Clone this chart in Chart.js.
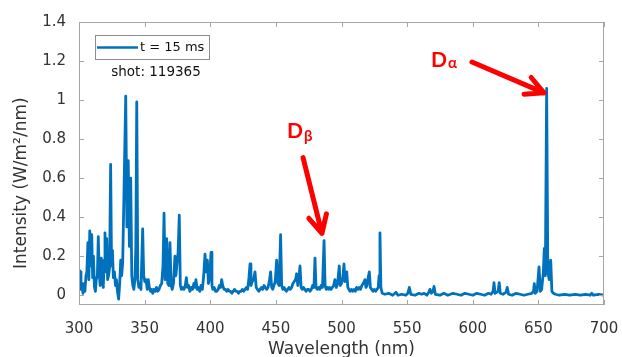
<!DOCTYPE html>
<html>
<head>
<meta charset="utf-8">
<script src="https://cdn.jsdelivr.net/npm/chart.js@4.4.0/dist/chart.umd.min.js"></script>
<style>
    html, body { margin: 0; padding: 0; background: #fff; overflow: hidden; }
    canvas { display: block; }
</style>
</head>
<body>
<canvas id="spectrumChart" width="622" height="357"></canvas>
<script>
// Spectrum (nm, W/m^2/nm)
const wavelength = [
    300, 300.8, 301.5, 302.3, 303, 303.8, 304.5, 305.3, 306, 306.8,
    307.5, 308.2, 309, 309.7, 310.4, 311, 311.8, 312.5, 313.2, 314,
    314.7, 315.4, 316.1, 317, 317.8, 318.5, 319.2, 319.8, 320.5, 321.1,
    321.8, 322.5, 323.3, 324.1, 324.8, 325.5, 326.2, 327, 327.8, 328.5,
    329.3, 330.2, 331, 331.8, 332.5, 333.3, 334.2, 335.6, 336.5, 337.5,
    338.4, 339.4, 340.2, 341, 341.8, 342.6, 343.3, 344, 344.8, 345.6,
    346.4, 347.2, 348.5, 349.3, 350.1, 351, 352, 352.8, 353.6, 354.5,
    355.3, 356.2, 357, 358, 359, 360, 361, 362, 363, 364,
    364.8, 365.6, 366.8, 367.6, 368.5, 369.3, 370.2, 371, 372, 373.1,
    373.8, 374.5, 375.5, 376.4, 377.2, 378, 379, 380, 381, 381.8,
    382.6, 383.5, 384.5, 385.5, 386.5, 387.5, 388.3, 389.1, 390, 391,
    392, 393, 394, 395, 396, 396.8, 397.8, 398.6, 399.5, 400.6,
    401.3, 402, 403, 404, 405, 406, 407, 408, 408.7, 409.5,
    410.5, 411.5, 412.5, 413.5, 414.5, 415.5, 416.5, 417.5, 418.5, 419.5,
    420.5, 421.5, 422.5, 423.5, 424.5, 425.5, 426.5, 427.5, 428.5, 429.5,
    430.3, 431, 432, 433, 434.1, 435, 436, 437, 438, 439,
    440, 441, 442, 443, 444, 445, 446, 446.8, 447.6, 448.5,
    449.5, 450.6, 451.5, 452.5, 453.6, 454.4, 455.3, 456.2, 457, 458,
    459, 460, 461, 462, 463, 464, 465, 465.8, 466.7, 467.5,
    468.4, 469.2, 470, 471, 472, 473, 474, 475, 476, 477,
    478, 479, 479.8, 480.6, 481.5, 482.5, 483.5, 484.5, 485.5, 486.7,
    487.5, 488.4, 489.3, 490.2, 491, 492, 493, 494, 495, 496,
    497, 498.3, 499, 500, 501, 501.9, 502.6, 503.3, 504, 504.8,
    505.6, 506.5, 507.5, 508.5, 509.5, 510.5, 511.5, 512.5, 513.5, 514.5,
    515.5, 516.5, 517.9, 518.6, 519.5, 520.3, 521.2, 522, 523, 524,
    525, 526, 527, 528, 528.6, 529.3, 530, 531, 533, 536,
    539, 541.5, 543, 546, 549, 550.5, 551.7, 552.8, 556, 559,
    561, 563, 565, 566.5, 567.4, 568.5, 569.6, 570.5, 571.5, 575,
    578, 581, 585, 588, 591, 594, 597, 600, 603, 606,
    609, 612, 614, 615.5, 616.2, 617, 619.3, 620.2, 621, 623,
    625.3, 626.3, 627.3, 630, 633, 636, 639, 642, 645, 646.3,
    646.9, 647.6, 649, 650.5, 651.5, 652.5, 653.8, 654.5, 655.3, 656.3,
    657.2, 658.2, 659.4, 660.3, 661.5, 663, 666, 670, 674, 678,
    682, 686, 689.5, 690.6, 692, 696, 700
];
const intensity = [
    0.13, 0.12, 0.03, 0.06, 0.01, 0.05, 0.02, 0.10, 0.12, 0.27,
    0.08, 0.33, 0.15, 0.31, 0.09, 0.20, 0.04, 0.02, 0.08, 0.10,
    0.30, 0.12, 0.05, 0.19, 0.07, 0.04, 0.18, 0.32, 0.12, 0.29,
    0.08, 0.10, 0.14, 0.67, 0.15, 0.23, 0.09, 0.12, 0.05, 0.08,
    0.02, -0.02, 0.06, 0.18, 0.10, 0.17, 0.50, 1.02, 0.35, 0.69,
    0.25, 0.60, 0.10, 0.05, 0.03, 0.08, 0.25, 0.99, 0.08, 0.04,
    0.06, 0.03, 0.34, 0.10, 0.07, 0.08, 0.03, 0.08, 0.04, 0.02,
    0.03, 0.01, 0.03, 0.02, 0.04, 0.02, 0.03, 0.05, 0.06, 0.15,
    0.42, 0.08, 0.29, 0.06, 0.05, 0.27, 0.05, 0.03, 0.06, 0.20,
    0.10, 0.15, 0.22, 0.41, 0.05, 0.03, 0.04, 0.03, 0.05, 0.09,
    0.04, 0.05, 0.02, 0.04, 0.03, 0.06, 0.04, 0.08, 0.03, 0.04,
    0.02, 0.05, 0.03, 0.10, 0.21, 0.12, 0.18, 0.06, 0.09, 0.22,
    0.05, 0.03, 0.04, 0.02, 0.02, 0.03, 0.05, 0.04, 0.08, 0.05,
    0.03, 0.03, 0.02, 0.03, 0.02, 0.02, 0.01, 0.02, 0.03, 0.02,
    0.02, 0.01, 0.02, 0.02, 0.03, 0.02, 0.03, 0.04, 0.03, 0.09,
    0.16, 0.05, 0.07, 0.08, 0.12, 0.04, 0.03, 0.02, 0.03, 0.04,
    0.03, 0.05, 0.04, 0.03, 0.04, 0.07, 0.12, 0.04, 0.03, 0.05,
    0.07, 0.18, 0.06, 0.05, 0.31, 0.05, 0.03, 0.04, 0.03, 0.02,
    0.03, 0.04, 0.03, 0.04, 0.06, 0.07, 0.08, 0.11, 0.05, 0.09,
    0.15, 0.04, 0.03, 0.04, 0.03, 0.02, 0.03, 0.03, 0.02, 0.03,
    0.05, 0.04, 0.19, 0.04, 0.03, 0.04, 0.03, 0.05, 0.04, 0.28,
    0.05, 0.03, 0.04, 0.03, 0.04, 0.03, 0.04, 0.05, 0.08, 0.04,
    0.06, 0.15, 0.05, 0.06, 0.09, 0.16, 0.07, 0.10, 0.12, 0.04,
    0.03, 0.02, 0.03, 0.02, 0.03, 0.02, 0.04, 0.03, 0.04, 0.03,
    0.05, 0.06, 0.08, 0.04, 0.05, 0.09, 0.12, 0.04, 0.03, 0.02,
    0.03, 0.02, 0.03, 0.04, 0.10, 0.32, 0.04, 0.01, 0.005, 0.01,
    0.0, 0.015, 0.0, 0.005, 0.0, 0.01, 0.04, 0.005, 0.0, 0.01,
    0.005, 0.01, 0.0, 0.015, 0.03, 0.01, 0.02, 0.045, 0.005, 0.0,
    0.01, 0.0, 0.01, 0.005, 0.0, 0.01, 0.005, 0.0, 0.01, 0.005,
    0.0, 0.01, 0.005, 0.02, 0.065, 0.01, 0.02, 0.065, 0.01, 0.005,
    0.015, 0.04, 0.005, 0.0, 0.01, 0.005, 0.0, 0.005, 0.01, 0.02,
    0.06, 0.01, 0.02, 0.145, 0.02, 0.03, 0.12, 0.24, 0.10, 1.06,
    0.12, 0.08, 0.18, 0.02, 0.01, 0.005, 0.0, 0.005, 0.0, 0.005,
    0.0, 0.005, 0.0, 0.01, 0.0, 0.005, 0.0
];

const xTicks = [300, 350, 400, 450, 500, 550, 600, 650, 700];
const yTicks = [0, 0.2, 0.4, 0.6, 0.8, 1, 1.2, 1.4];

const seriesLabel = "t = 15 ms";
const shotLabel = "shot: 119365";

// arrow annotations in data units: subscript, label pos, tail, tip
const lineNotes = [
    { sub: "α", at: [568.2, 1.17], subDy: 1, tail: [599.4, 1.195], tip: [654.3, 1.037] },
    { sub: "β", at: [458.5, 0.807], subDy: 3, tail: [470.7, 0.705], tip: [485.1, 0.317] }
];

const blue = "#0072BD";
const axisGrey = "#a6a6a6";
const textGrey = "#333333";

function arrow(ctx, x0, y0, x1, y1) {
    const ang = Math.atan2(y0 - y1, x0 - x1);
    const len = 20, spread = 0.47;
    ctx.beginPath();
    ctx.moveTo(x0, y0);
    ctx.lineTo(x1, y1);
    ctx.moveTo(x1 + len * Math.cos(ang - spread), y1 + len * Math.sin(ang - spread));
    ctx.lineTo(x1, y1);
    ctx.lineTo(x1 + len * Math.cos(ang + spread), y1 + len * Math.sin(ang + spread));
    ctx.stroke();
}

const framePlugin = {
    id: "frame",
    afterDraw(chart) {
        const { ctx, chartArea: a, scales: { x, y } } = chart;
        ctx.save();

        // axes box + inward ticks
        ctx.strokeStyle = axisGrey;
        ctx.lineWidth = 1;
        ctx.strokeRect(a.left + 0.5, a.top + 0.5, a.right - a.left - 1, a.bottom - a.top - 1);
        ctx.beginPath();
        xTicks.forEach(v => {
            const px = Math.round(x.getPixelForValue(v)) + 0.5;
            ctx.moveTo(px, a.bottom); ctx.lineTo(px, a.bottom - 5);
            ctx.moveTo(px, a.top); ctx.lineTo(px, a.top + 5);
        });
        yTicks.forEach(v => {
            const py = Math.round(y.getPixelForValue(v)) + 0.5;
            ctx.moveTo(a.left, py); ctx.lineTo(a.left + 5, py);
            ctx.moveTo(a.right, py); ctx.lineTo(a.right - 5, py);
        });
        ctx.stroke();

        // legend box
        const lx = a.left + 16, ly = a.top + 13;
        ctx.fillStyle = "#fff";
        ctx.fillRect(lx, ly, 114, 24);
        ctx.strokeStyle = "#8c8c8c";
        ctx.strokeRect(lx + 0.5, ly + 0.5, 114, 24);
        ctx.strokeStyle = blue;
        ctx.lineWidth = 2.5;
        ctx.beginPath();
        ctx.moveTo(lx + 2, ly + 12.5);
        ctx.lineTo(lx + 43, ly + 12.5);
        ctx.stroke();
        ctx.fillStyle = "#111";
        ctx.textBaseline = "middle";
        ctx.textAlign = "left";
        ctx.font = "13px 'DejaVu Sans'";
        ctx.fillText(seriesLabel, lx + 45, ly + 12.5);
        ctx.textAlign = "center";
        ctx.font = "13.5px 'DejaVu Sans'";
        ctx.fillText(shotLabel, lx + 61, ly + 37);

        // D-alpha / D-beta arrows
        ctx.strokeStyle = "#ff0000";
        ctx.fillStyle = "#ff0000";
        ctx.lineWidth = 5;
        ctx.lineCap = "round";
        ctx.lineJoin = "round";
        ctx.textAlign = "left";
        ctx.textBaseline = "alphabetic";
        lineNotes.forEach(n => {
            arrow(ctx,
                x.getPixelForValue(n.tail[0]), y.getPixelForValue(n.tail[1]),
                x.getPixelForValue(n.tip[0]), y.getPixelForValue(n.tip[1]));
            const tx = x.getPixelForValue(n.at[0]), ty = y.getPixelForValue(n.at[1]);
            ctx.font = "bold 21px Lato";
            ctx.fillText("D", tx, ty);
            const w = ctx.measureText("D").width;
            ctx.font = "bold 15px Lato";
            ctx.fillText(n.sub, tx + w + 1, ty + n.subDy);
        });
        ctx.restore();
    }
};

const points = wavelength.map((w, i) => ({ x: w, y: intensity[i] }));

new Chart(document.getElementById("spectrumChart"), {
    type: "line",
    data: {
        datasets: [{
            label: seriesLabel,
            data: points,
            borderColor: blue,
            borderWidth: 2.8,
            borderJoinStyle: "round",
            pointRadius: 0,
            tension: 0,
            fill: false
        }]
    },
    options: {
        responsive: false,
        animation: false,
        devicePixelRatio: 1,
        layout: { padding: { left: 0, right: 18, top: 22, bottom: 0 } },
        plugins: { legend: { display: false }, tooltip: { enabled: false } },
        scales: {
            x: {
                type: "linear",
                min: 300,
                max: 700,
                grid: { display: false },
                border: { display: false },
                afterBuildTicks: s => { s.ticks = xTicks.map(v => ({ value: v })); },
                afterFit: s => { s.height = 52; s.paddingLeft = 0; s.paddingRight = 0; },
                ticks: {
                    padding: 7,
                    color: textGrey,
                    maxRotation: 0,
                    font: { family: "'DejaVu Sans'", size: 15 }
                },
                title: {
                    display: true,
                    text: "Wavelength (nm)",
                    color: textGrey,
                    padding: { top: 0, bottom: -1 },
                    font: { family: "'DejaVu Sans'", size: 17, lineHeight: 1 }
                }
            },
            y: {
                min: -0.05,
                max: 1.4,
                grid: { display: false },
                border: { display: false },
                afterBuildTicks: s => { s.ticks = yTicks.map(v => ({ value: v })); },
                afterFit: s => { s.width = 79; s.paddingTop = 0; s.paddingBottom = 0; },
                ticks: {
                    padding: 5,
                    color: textGrey,
                    font: { family: "'DejaVu Sans'", size: 15 },
                    callback: v => String(+v.toFixed(1))
                },
                title: {
                    display: true,
                    // trailing spaces push the centred label down, as in the original
                    text: "Intensity (W/m²/nm)\u2003\u2003 ",
                    color: textGrey,
                    padding: { top: 13, bottom: 0 },
                    font: { family: "'DejaVu Sans'", size: 17, lineHeight: 1 }
                }
            }
        }
    },
    plugins: [framePlugin]
});
</script>
</body>
</html>
